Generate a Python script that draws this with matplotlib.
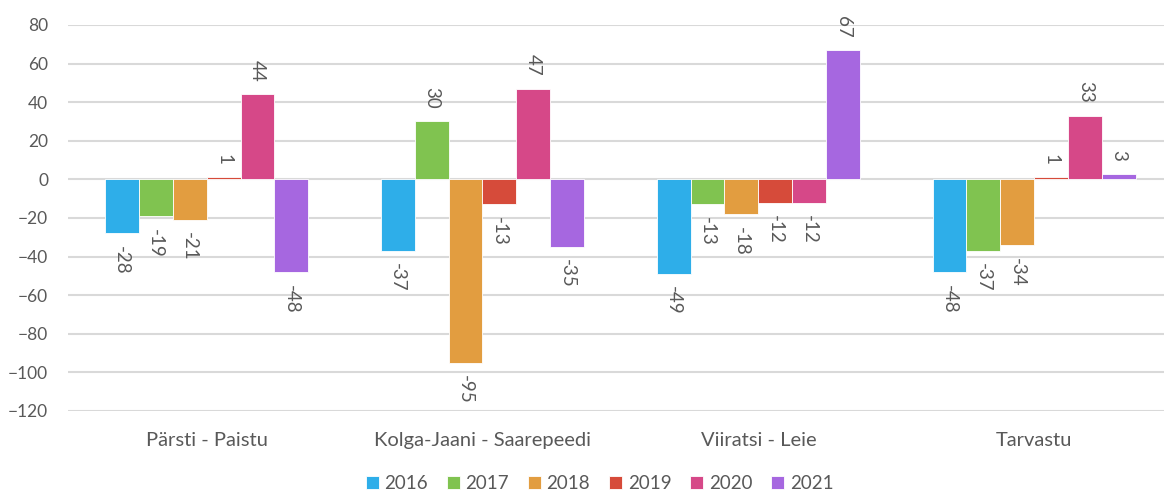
import numpy as np
import matplotlib.pyplot as plt

plt.rcParams['font.family'] = ['Lato', 'DejaVu Sans']

categories = ['Pärsti - Paistu', 'Kolga-Jaani - Saarepeedi', 'Viiratsi - Leie', 'Tarvastu']
years = ['2016', '2017', '2018', '2019', '2020', '2021']
v2016 = [-28, -37, -49, -48]
v2017 = [-19, 30, -13, -37]
v2018 = [-21, -95, -18, -34]
v2019 = [1, -13, -12, 1]
v2020 = [44, 47, -12, 33]
v2021 = [-48, -35, 67, 3]
series = [v2016, v2017, v2018, v2019, v2020, v2021]
colors = ['#2EAEE9', '#80C350', '#E29D40', '#D64B3A', '#D64888', '#A667E0']

text_col = '#595959'

fig = plt.figure(figsize=(11.64, 4.98), dpi=100)
ax = fig.add_axes([0.058, 0.1747, 0.942, 0.7751])

x = np.arange(len(categories))
w = 0.123
for k, vals in enumerate(series):
    pos = x + (k - 2.5) * w
    ax.bar(pos, vals, w, color=colors[k], edgecolor='white', linewidth=0.6,
           label=years[k], zorder=3)
    for px, v in zip(pos, vals):
        if v >= 0:
            ax.annotate(str(v), (px, v), xytext=(0, 9), textcoords='offset points',
                        rotation=270, ha='center', va='bottom', fontsize=13.5, color=text_col)
        else:
            ax.annotate(str(v), (px, v), xytext=(0, -9), textcoords='offset points',
                        rotation=270, ha='center', va='top', fontsize=13.5, color=text_col)

ax.set_ylim(-120, 80)
ax.set_yticks(range(-120, 81, 20))
ax.set_xlim(-0.504, 3.47)
ax.set_xticks(x)
ax.set_xticklabels(categories, fontsize=14.5)
ax.grid(axis='y', color='#D9D9D9', linewidth=1.5, zorder=0)
for s in ax.spines.values():
    s.set_visible(False)
ax.tick_params(length=0, labelsize=12.5, colors=text_col)
ax.tick_params(axis='x', labelsize=14.5, pad=15)
ax.tick_params(axis='y', pad=14)

fig.legend(*ax.get_legend_handles_labels(), loc='lower center',
           bbox_to_anchor=(0.515, -0.022), ncol=6, frameon=False,
           fontsize=13.5, handlelength=0.7, handleheight=0.7, handletextpad=0.3,
           columnspacing=1.0, labelcolor=text_col)

fig.savefig('out.png')
